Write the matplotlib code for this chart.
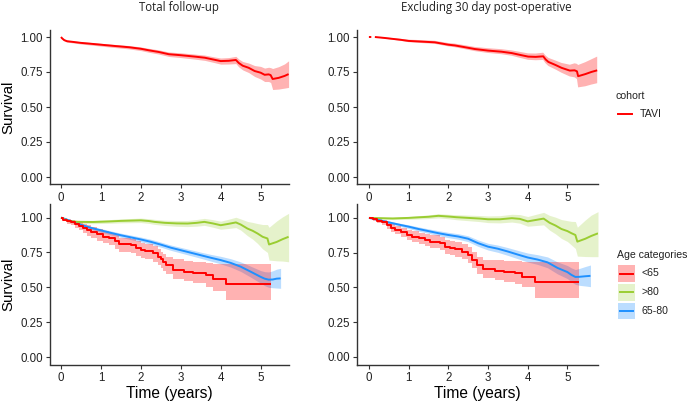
import numpy as np
import matplotlib
matplotlib.use("Agg")
import matplotlib.pyplot as plt
from matplotlib.patches import Rectangle
from matplotlib.lines import Line2D

W, H = 689, 401

# ---------------- data ----------------
titles = ["Total follow-up", "Excluding 30 day post-operative"]
cohort_label = "TAVI"
age_labels = ["<65", ">80", "65-80"]
x_ticks = [0, 1, 2, 3, 4, 5]
y_ticks = [0.00, 0.25, 0.50, 0.75, 1.00]

# TAVI, total follow-up
tavi_t = [0.00, 0.03, 0.08, 0.15, 0.30, 0.50, 0.70, 1.00, 1.30, 1.70, 2.00, 2.20, 2.45, 2.70, 3.00, 3.35, 3.60,
          3.80, 4.00, 4.20, 4.38, 4.45, 4.55, 4.70, 4.85, 5.00, 5.10, 5.20, 5.25, 5.30, 5.45, 5.60, 5.70]
tavi_s = [1.000, 0.990, 0.978, 0.970, 0.965, 0.958, 0.953, 0.945, 0.937, 0.927, 0.916, 0.905, 0.893, 0.877, 0.870,
          0.860, 0.852, 0.840, 0.828, 0.830, 0.836, 0.815, 0.795, 0.780, 0.757, 0.745, 0.730, 0.733, 0.728, 0.700,
          0.708, 0.722, 0.735]
tavi_lo = [1.000, 0.985, 0.972, 0.963, 0.958, 0.950, 0.944, 0.935, 0.926, 0.915, 0.903, 0.891, 0.878, 0.861, 0.853,
           0.842, 0.833, 0.820, 0.806, 0.807, 0.810, 0.787, 0.765, 0.746, 0.718, 0.700, 0.682, 0.682, 0.675, 0.625,
           0.628, 0.635, 0.640]
tavi_hi = [1.000, 0.995, 0.984, 0.977, 0.972, 0.966, 0.962, 0.955, 0.948, 0.939, 0.929, 0.919, 0.908, 0.893, 0.887,
           0.878, 0.871, 0.860, 0.850, 0.853, 0.862, 0.843, 0.825, 0.814, 0.796, 0.790, 0.778, 0.784, 0.781, 0.775,
           0.788, 0.808, 0.830]

# TAVI, excluding 30 day post-operative
excl_t = [0.00, 0.06, np.nan, 0.15, 0.40, 0.80, 1.00, 1.20, 1.66, 2.00, 2.16, 2.40, 2.67, 3.00, 3.34, 3.60, 3.76,
          4.01, 4.20, 4.39, 4.45, 4.52, 4.70, 4.85, 5.06, 5.18, 5.24, 5.27, 5.45, 5.60, 5.75]
excl_s = [1.000, 1.000, np.nan, 1.000, 0.993, 0.980, 0.972, 0.969, 0.962, 0.945, 0.940, 0.928, 0.914, 0.903, 0.895,
          0.885, 0.875, 0.860, 0.858, 0.862, 0.840, 0.822, 0.800, 0.780, 0.760, 0.762, 0.755, 0.720, 0.735, 0.750,
          0.762]
excl_lo = [1.000, 1.000, np.nan, 1.000, 0.988, 0.973, 0.963, 0.959, 0.951, 0.933, 0.927, 0.914, 0.899, 0.886, 0.877,
           0.866, 0.854, 0.837, 0.834, 0.836, 0.812, 0.793, 0.768, 0.745, 0.718, 0.712, 0.700, 0.640, 0.648, 0.660,
           0.670]
excl_hi = [1.000, 1.000, np.nan, 1.000, 0.997, 0.987, 0.981, 0.979, 0.973, 0.957, 0.953, 0.942, 0.929, 0.920, 0.913,
           0.904, 0.896, 0.883, 0.882, 0.888, 0.868, 0.851, 0.832, 0.815, 0.802, 0.812, 0.808, 0.800, 0.820, 0.840,
           0.860]

# Age <65, total follow-up
r_t = [0.00, 0.05, 0.15, 0.25, 0.35, 0.45, 0.55, 0.65, 0.75, 0.90, 1.05, 1.20, 1.35, 1.45, 1.75, 1.88, 2.00, 2.10,
       2.30, 2.42, 2.50, 2.56, 2.62, 2.80, 3.08, 3.30, 3.63, 3.80, 4.12, 5.25]
r_s = [1.000, 0.985, 0.975, 0.965, 0.955, 0.940, 0.925, 0.910, 0.897, 0.880, 0.862, 0.850, 0.830, 0.810, 0.800,
       0.780, 0.770, 0.760, 0.745, 0.720, 0.700, 0.680, 0.660, 0.625, 0.612, 0.600, 0.588, 0.560, 0.522, 0.522]
r_lo = [1.000, 0.973, 0.957, 0.943, 0.927, 0.908, 0.889, 0.870, 0.855, 0.835, 0.814, 0.800, 0.778, 0.756, 0.745,
        0.724, 0.713, 0.702, 0.685, 0.658, 0.636, 0.615, 0.594, 0.557, 0.542, 0.528, 0.505, 0.475, 0.410, 0.410]
r_hi = [1.000, 0.995, 0.989, 0.983, 0.977, 0.966, 0.955, 0.943, 0.933, 0.918, 0.902, 0.892, 0.874, 0.856, 0.848,
        0.830, 0.820, 0.811, 0.797, 0.774, 0.756, 0.738, 0.720, 0.700, 0.690, 0.680, 0.675, 0.670, 0.665, 0.665]

# Age >80, total follow-up
g_t = [0.00, 0.10, 0.20, 0.42, 0.80, 1.20, 1.50, 1.75, 2.00, 2.20, 2.34, 2.60, 2.90, 3.17, 3.40, 3.59, 3.80, 4.00,
       4.20, 4.38, 4.50, 4.67, 4.80, 4.92, 5.05, 5.17, 5.21, 5.40, 5.55, 5.70]
g_s = [1.000, 0.985, 0.975, 0.969, 0.968, 0.972, 0.976, 0.978, 0.980, 0.975, 0.969, 0.962, 0.958, 0.957, 0.962,
       0.969, 0.958, 0.945, 0.955, 0.965, 0.950, 0.921, 0.905, 0.886, 0.862, 0.850, 0.807, 0.825, 0.845, 0.862]
g_lo = [1.000, 0.978, 0.966, 0.958, 0.956, 0.959, 0.962, 0.963, 0.964, 0.958, 0.951, 0.943, 0.937, 0.935, 0.938,
        0.944, 0.931, 0.916, 0.922, 0.928, 0.910, 0.870, 0.845, 0.815, 0.775, 0.750, 0.695, 0.690, 0.688, 0.683]
g_hi = [1.000, 0.992, 0.984, 0.980, 0.980, 0.985, 0.990, 0.993, 0.996, 0.992, 0.987, 0.981, 0.979, 0.979, 0.986,
        0.994, 0.985, 0.974, 0.988, 1.002, 0.990, 0.972, 0.965, 0.957, 0.950, 0.950, 0.930, 0.975, 1.005, 1.030]

# Age 65-80, total follow-up
b_t = [0.00, 0.25, 0.50, 0.75, 1.00, 1.25, 1.50, 1.75, 2.00, 2.25, 2.50, 2.75, 3.00, 3.25, 3.50, 3.75, 4.00, 4.25,
       4.50, 4.75, 5.00, 5.10, 5.20, 5.30, 5.40, 5.50]
b_s = [1.000, 0.975, 0.948, 0.926, 0.908, 0.890, 0.873, 0.858, 0.843, 0.826, 0.806, 0.784, 0.766, 0.748, 0.730,
       0.712, 0.695, 0.675, 0.648, 0.612, 0.575, 0.562, 0.555, 0.556, 0.562, 0.564]
b_lo = [1.000, 0.968, 0.938, 0.914, 0.895, 0.876, 0.858, 0.842, 0.826, 0.808, 0.788, 0.765, 0.746, 0.727, 0.708,
        0.688, 0.668, 0.645, 0.614, 0.573, 0.530, 0.512, 0.500, 0.497, 0.495, 0.493]
b_hi = [1.000, 0.982, 0.958, 0.938, 0.921, 0.904, 0.888, 0.874, 0.860, 0.844, 0.824, 0.803, 0.786, 0.769, 0.752,
        0.736, 0.722, 0.705, 0.682, 0.651, 0.620, 0.612, 0.610, 0.618, 0.630, 0.636]

# Age <65, excluding 30 days
r2_t = [0.00, 0.10, 0.20, 0.32, 0.45, 0.55, 0.66, 0.82, 0.95, 1.08, 1.25, 1.41, 1.55, 1.79, 1.92, 2.05, 2.17, 2.34,
        2.50, 2.59, 2.71, 2.88, 3.17, 3.40, 3.68, 3.85, 4.18, 5.30]
r2_s = [1.000, 0.990, 0.980, 0.969, 0.948, 0.930, 0.914, 0.897, 0.880, 0.866, 0.852, 0.840, 0.830, 0.816, 0.792,
        0.785, 0.775, 0.756, 0.732, 0.696, 0.660, 0.631, 0.619, 0.610, 0.600, 0.576, 0.540, 0.540]
r2_lo = [1.000, 0.978, 0.963, 0.948, 0.922, 0.901, 0.882, 0.862, 0.843, 0.826, 0.810, 0.796, 0.784, 0.768, 0.742,
         0.733, 0.722, 0.701, 0.675, 0.636, 0.598, 0.566, 0.552, 0.541, 0.527, 0.500, 0.421, 0.421]
r2_hi = [1.000, 0.998, 0.993, 0.987, 0.972, 0.958, 0.944, 0.930, 0.916, 0.903, 0.892, 0.882, 0.874, 0.862, 0.840,
         0.834, 0.826, 0.809, 0.788, 0.754, 0.720, 0.700, 0.695, 0.690, 0.688, 0.686, 0.685, 0.685]

# Age >80, excluding 30 days
g2_t = [0.00, 0.30, 0.60, 1.00, 1.30, 1.50, 1.75, 2.00, 2.20, 2.50, 2.80, 3.00, 3.30, 3.60, 3.80, 4.00, 4.20, 4.40,
        4.55, 4.70, 4.85, 5.00, 5.10, 5.20, 5.25, 5.45, 5.60, 5.77]
g2_s = [1.000, 0.998, 0.996, 1.000, 1.005, 1.008, 1.015, 1.010, 1.005, 1.000, 0.995, 0.990, 0.990, 0.998, 0.993,
        0.975, 0.985, 0.995, 0.965, 0.945, 0.920, 0.905, 0.890, 0.877, 0.829, 0.850, 0.870, 0.889]
g2_lo = [1.000, 0.992, 0.988, 0.990, 0.993, 0.995, 1.000, 0.994, 0.987, 0.980, 0.973, 0.966, 0.964, 0.970, 0.962,
         0.940, 0.945, 0.950, 0.912, 0.885, 0.852, 0.830, 0.805, 0.780, 0.725, 0.722, 0.721, 0.721]
g2_hi = [1.000, 1.004, 1.004, 1.010, 1.017, 1.021, 1.030, 1.026, 1.023, 1.020, 1.017, 1.014, 1.016, 1.026, 1.024,
         1.010, 1.025, 1.040, 1.018, 1.005, 0.988, 0.980, 0.975, 0.974, 0.933, 0.985, 1.020, 1.045]

# Age 65-80, excluding 30 days
b2_t = [0.00, 0.25, 0.50, 0.75, 1.00, 1.25, 1.50, 1.75, 2.00, 2.25, 2.50, 2.75, 3.00, 3.25, 3.50, 3.75, 4.00, 4.25,
        4.50, 4.75, 5.00, 5.10, 5.20, 5.30, 5.45, 5.58]
b2_s = [1.000, 0.985, 0.968, 0.952, 0.937, 0.920, 0.905, 0.890, 0.877, 0.866, 0.850, 0.818, 0.793, 0.778, 0.758,
        0.736, 0.715, 0.700, 0.680, 0.640, 0.610, 0.590, 0.575, 0.576, 0.580, 0.583]
b2_lo = [1.000, 0.979, 0.959, 0.941, 0.924, 0.905, 0.889, 0.872, 0.858, 0.846, 0.829, 0.795, 0.769, 0.752, 0.730,
         0.706, 0.683, 0.665, 0.641, 0.597, 0.563, 0.540, 0.522, 0.515, 0.510, 0.505]
b2_hi = [1.000, 0.991, 0.977, 0.963, 0.950, 0.935, 0.921, 0.908, 0.896, 0.886, 0.871, 0.841, 0.817, 0.804, 0.786,
         0.766, 0.747, 0.735, 0.719, 0.683, 0.657, 0.640, 0.628, 0.636, 0.650, 0.661]

# ---------------- style ----------------
RED = "#FF0000"
GREEN = "#9ACD32"
BLUE = "#1E90FF"
TICK_FONT = "Liberation Sans"
TITLE_FONT = "Open Sans"

fig = plt.figure(figsize=(W / 100, H / 100), dpi=100)


def rect(x0, x1, ytop, ybot):
    return [x0 / W, 1 - ybot / H, (x1 - x0) / W, (ybot - ytop) / H]


def style(ax, xlim, ylim, ylabel, xlabel):
    ax.set_xlim(*xlim)
    ax.set_ylim(*ylim)
    for s in ["top", "right"]:
        ax.spines[s].set_visible(False)
    for s in ["left", "bottom"]:
        ax.spines[s].set_color("#333333")
        ax.spines[s].set_linewidth(1.0)
    ax.set_xticks(x_ticks)
    ax.set_yticks(y_ticks)
    ax.set_yticklabels([f"{v:.2f}" for v in y_ticks])
    ax.tick_params(length=3.0, width=0.8, color="#333333", labelsize=8.3, labelcolor="#222222")
    ax.tick_params(axis="x", pad=2.5)
    ax.tick_params(axis="y", pad=2.0)
    for lab in ax.get_xticklabels() + ax.get_yticklabels():
        lab.set_fontfamily(TICK_FONT)
    if ylabel:
        ax.set_ylabel("Survival", fontsize=10.8, family=TICK_FONT, labelpad=4)
    if xlabel:
        ax.set_xlabel("Time (years)", fontsize=11.2, family=TICK_FONT, labelpad=1)
    ax.patch.set_visible(False)


def band(ax, t, s, lo, hi, color, steps, fa):
    t = np.asarray(t, float)
    if steps:
        ax.fill_between(t, lo, hi, step="post", color=color, alpha=fa, linewidth=0)
        ax.plot(t, s, drawstyle="steps-post", color=color, lw=1.4, solid_capstyle="butt")
    else:
        ax.fill_between(t, lo, hi, color=color, alpha=fa, linewidth=0)
        ax.plot(t, s, color=color, lw=1.4, solid_capstyle="butt")


ax1 = fig.add_axes(rect(50, 289, 30, 184))
ax2 = fig.add_axes(rect(357, 598, 30, 184))
ax3 = fig.add_axes(rect(50, 289, 204, 364.5))
ax4 = fig.add_axes(rect(357, 598, 204, 364.5))

band(ax1, tavi_t, tavi_s, tavi_lo, tavi_hi, RED, False, 0.3)
band(ax2, excl_t, excl_s, excl_lo, excl_hi, RED, False, 0.3)

band(ax3, b_t, b_s, b_lo, b_hi, BLUE, False, 0.3)
band(ax3, g_t, g_s, g_lo, g_hi, GREEN, False, 0.25)
band(ax3, r_t, r_s, r_lo, r_hi, RED, True, 0.3)

band(ax4, b2_t, b2_s, b2_lo, b2_hi, BLUE, False, 0.3)
band(ax4, g2_t, g2_s, g2_lo, g2_hi, GREEN, False, 0.25)
band(ax4, r2_t, r2_s, r2_lo, r2_hi, RED, True, 0.3)

style(ax1, (-0.275, 5.71), (-0.05, 1.05), True, False)
style(ax2, (-0.30, 5.77), (-0.05, 1.05), False, False)
style(ax3, (-0.275, 5.71), (-0.053, 1.097), True, True)
style(ax4, (-0.30, 5.77), (-0.055, 1.10), False, True)

# titles
fig.text(179 / W, 1 - 8 / H, titles[0], ha="center", va="center", fontsize=8.3, family=TITLE_FONT, color="#222222")
fig.text(486 / W, 1 - 8 / H, titles[1], ha="center", va="center", fontsize=8.3, family=TITLE_FONT, color="#222222")

# legends drawn in pixel space
lg = fig.add_axes([0, 0, 1, 1])
lg.set_xlim(0, W)
lg.set_ylim(H, 0)
lg.axis("off")
lg.patch.set_visible(False)

lg.text(616, 96, "cohort", fontsize=7.6, family=TICK_FONT, va="center", ha="left", color="#222222")
lg.add_line(Line2D([617.5, 632], [114, 114], color=RED, lw=1.4))
lg.text(639.5, 114, cohort_label, fontsize=7.6, family=TICK_FONT, va="center", ha="left", color="#222222")

lg.text(617, 255, "Age categories", fontsize=7.6, family=TICK_FONT, va="center", ha="left", color="#222222")
age_colors = [RED, GREEN, BLUE]
age_alpha = [0.3, 0.25, 0.3]
for i, (lab, c, a) in enumerate(zip(age_labels, age_colors, age_alpha)):
    yc = 273.5 + i * 18.7
    lg.add_patch(Rectangle((618, yc - 8.3), 16.5, 16.6, facecolor=c, alpha=a, linewidth=0))
    lg.add_line(Line2D([619.5, 633], [yc, yc], color=c, lw=1.4))
    lg.text(641.5, yc, lab, fontsize=7.6, family=TICK_FONT, va="center", ha="left", color="#222222")

fig.savefig("out.png", dpi=100)
